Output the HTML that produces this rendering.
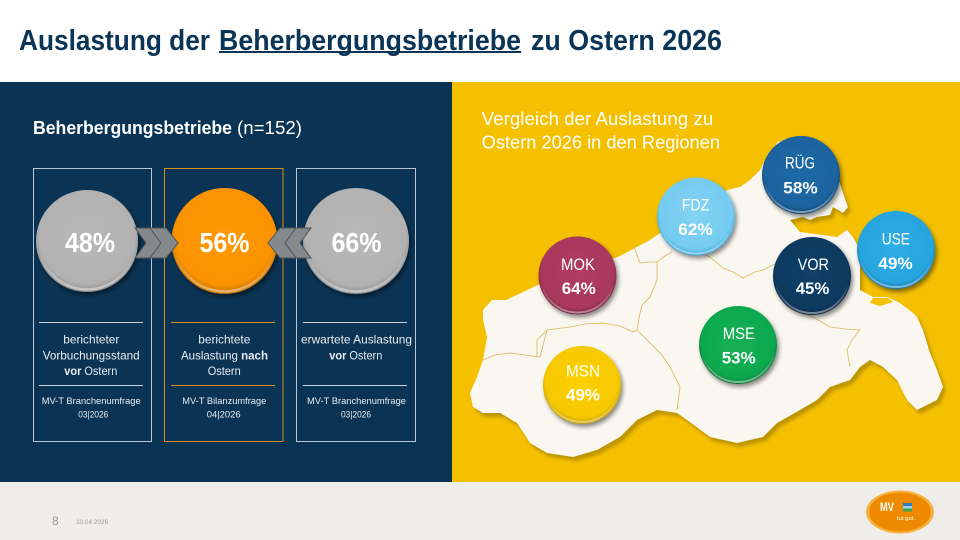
<!DOCTYPE html>
<html><head><meta charset="utf-8"><style>
html,body{margin:0;padding:0;width:960px;height:540px;overflow:hidden;background:#fff}
svg{display:block}
text{font-family:"Liberation Sans",sans-serif}
</style></head><body>
<svg width="960" height="540" viewBox="0 0 960 540" xmlns="http://www.w3.org/2000/svg">
<defs>
 <filter id="ds" x="-30%" y="-30%" width="160%" height="160%">
  <feDropShadow dx="2" dy="3" stdDeviation="2" flood-color="#000" flood-opacity="0.45"/>
 </filter>
 <filter id="ms" x="-10%" y="-10%" width="120%" height="130%">
  <feGaussianBlur stdDeviation="1.5"/>
 </filter>
 <radialGradient id="gGray" cx="50%" cy="45%" r="55%">
  <stop offset="0" stop-color="#b8b8b8"/><stop offset="0.85" stop-color="#b2b2b2"/><stop offset="1" stop-color="#8e8e8e"/>
 </radialGradient>
 <radialGradient id="gOr" cx="50%" cy="45%" r="55%">
  <stop offset="0" stop-color="#ff9808"/><stop offset="0.85" stop-color="#fb9200"/><stop offset="1" stop-color="#c07000"/>
 </radialGradient>
 <radialGradient id="gRug" cx="50%" cy="45%" r="55%">
  <stop offset="0" stop-color="#1d6aa8"/><stop offset="0.85" stop-color="#1a639e"/><stop offset="1" stop-color="#0f4270"/>
 </radialGradient>
 <radialGradient id="gFdz" cx="50%" cy="45%" r="55%">
  <stop offset="0" stop-color="#84d3f4"/><stop offset="0.85" stop-color="#74cbf0"/><stop offset="1" stop-color="#3aa4d4"/>
 </radialGradient>
 <radialGradient id="gMok" cx="50%" cy="45%" r="55%">
  <stop offset="0" stop-color="#b03d64"/><stop offset="0.85" stop-color="#a8375c"/><stop offset="1" stop-color="#74203c"/>
 </radialGradient>
 <radialGradient id="gVor" cx="50%" cy="45%" r="55%">
  <stop offset="0" stop-color="#123f68"/><stop offset="0.85" stop-color="#0f3a60"/><stop offset="1" stop-color="#082440"/>
 </radialGradient>
 <radialGradient id="gUse" cx="50%" cy="45%" r="55%">
  <stop offset="0" stop-color="#30ace5"/><stop offset="0.85" stop-color="#26a4de"/><stop offset="1" stop-color="#1478b0"/>
 </radialGradient>
 <radialGradient id="gMse" cx="50%" cy="45%" r="55%">
  <stop offset="0" stop-color="#14b055"/><stop offset="0.85" stop-color="#0fa84e"/><stop offset="1" stop-color="#067434"/>
 </radialGradient>
 <radialGradient id="gMsn" cx="50%" cy="45%" r="55%">
  <stop offset="0" stop-color="#fcd000"/><stop offset="0.85" stop-color="#f6c800"/><stop offset="1" stop-color="#c09800"/>
 </radialGradient>
 <linearGradient id="rim" x1="0" y1="0" x2="0" y2="1">
  <stop offset="0" stop-color="#fff" stop-opacity="0"/><stop offset="0.6" stop-color="#fff" stop-opacity="0"/><stop offset="1" stop-color="#fff" stop-opacity="0.45"/>
 </linearGradient>
</defs>

<!-- header -->
<rect x="0" y="0" width="960" height="82" fill="#ffffff"/>
<text x="19" y="50" font-size="29" font-weight="bold" fill="#0b3556" textLength="191" lengthAdjust="spacingAndGlyphs">Auslastung der</text>
<text x="219" y="50" font-size="29" font-weight="bold" fill="#0b3556" textLength="302" lengthAdjust="spacingAndGlyphs">Beherbergungsbetriebe</text>
<rect x="219" y="51" width="302" height="2" fill="#0b3556"/>
<text x="531" y="50" font-size="29" font-weight="bold" fill="#0b3556" textLength="191" lengthAdjust="spacingAndGlyphs">zu Ostern 2026</text>

<!-- panels -->
<rect x="0" y="82" width="452" height="400" fill="#0b3454"/>
<rect x="452" y="82" width="508" height="400" fill="#f4c000"/>
<rect x="0" y="482" width="960" height="58" fill="#eeede9"/>

<!-- left panel -->
<text x="33" y="134" font-size="18" font-weight="bold" fill="#ffffff" textLength="199" lengthAdjust="spacingAndGlyphs">Beherbergungsbetriebe</text>
<text x="237" y="134" font-size="18" fill="#ffffff" textLength="65" lengthAdjust="spacingAndGlyphs">(n=152)</text>

<rect x="33.5" y="168.5" width="118" height="273" fill="none" stroke="#b9c6d3" stroke-width="1"/>
<rect x="164.5" y="168.5" width="118.5" height="273" fill="none" stroke="#d3901e" stroke-width="1"/>
<rect x="296.5" y="168.5" width="119" height="273" fill="none" stroke="#b9c6d3" stroke-width="1"/>

<line x1="39" y1="322.5" x2="143" y2="322.5" stroke="#c8d2dc" stroke-width="1"/>
<line x1="39" y1="385.5" x2="143" y2="385.5" stroke="#c8d2dc" stroke-width="1"/>
<line x1="171" y1="322.5" x2="275" y2="322.5" stroke="#d3901e" stroke-width="1"/>
<line x1="171" y1="385.5" x2="275" y2="385.5" stroke="#d3901e" stroke-width="1"/>
<line x1="303" y1="322.5" x2="407" y2="322.5" stroke="#c8d2dc" stroke-width="1"/>
<line x1="303" y1="385.5" x2="407" y2="385.5" stroke="#c8d2dc" stroke-width="1"/>

<!-- circles -->
<g filter="url(#ds)">
 <circle cx="87" cy="241" r="51" fill="url(#gGray)"/>
 <circle cx="224.5" cy="241" r="53" fill="url(#gOr)"/>
 <circle cx="356" cy="241" r="53" fill="url(#gGray)"/>
</g>
<g fill="none" stroke="url(#rim)" stroke-width="2.5">
 <circle cx="87" cy="241" r="48.5"/>
 <circle cx="224.5" cy="241" r="50.5"/>
 <circle cx="356" cy="241" r="50.5"/>
</g>

<!-- chevrons -->
<g fill="#85898b" stroke="#4e5356" stroke-width="1">
 <polygon points="135,228 152,228 163,243 152,258 135,258 146,243"/>
 <polygon points="150,228 166,228 178,243 166,258 150,258 161,243"/>
 <polygon points="311,228 294,228 283,243 294,258 311,258 300,243"/>
 <polygon points="296,228 280,228 268,243 280,258 296,258 285,243"/>
</g>

<g font-weight="bold" fill="#ffffff" font-size="28">
 <text x="65" y="252" textLength="50" lengthAdjust="spacingAndGlyphs">48%</text>
 <text x="199.5" y="252" textLength="50" lengthAdjust="spacingAndGlyphs">56%</text>
 <text x="331.5" y="252" textLength="50" lengthAdjust="spacingAndGlyphs">66%</text>
</g>

<g fill="#e6ecf2" font-size="12">
 <text x="63.3" y="343.5" textLength="56" lengthAdjust="spacingAndGlyphs">berichteter</text>
 <text x="42.7" y="359.3" textLength="97" lengthAdjust="spacingAndGlyphs">Vorbuchungsstand</text>
 <text x="64.3" y="375" textLength="53" lengthAdjust="spacingAndGlyphs"><tspan font-weight="bold">vor</tspan> Ostern</text>
 <text x="198.3" y="343.5" textLength="52" lengthAdjust="spacingAndGlyphs">berichtete</text>
 <text x="181" y="359.3" textLength="87" lengthAdjust="spacingAndGlyphs">Auslastung <tspan font-weight="bold">nach</tspan></text>
 <text x="207.7" y="375" textLength="33" lengthAdjust="spacingAndGlyphs">Ostern</text>
 <text x="301" y="343.5" textLength="111" lengthAdjust="spacingAndGlyphs">erwartete Auslastung</text>
 <text x="329.3" y="359.3" textLength="53" lengthAdjust="spacingAndGlyphs"><tspan font-weight="bold">vor</tspan> Ostern</text>
</g>
<g fill="#e6ecf2" font-size="9.5">
 <text x="41.7" y="404" textLength="99" lengthAdjust="spacingAndGlyphs">MV-T Branchenumfrage</text>
 <text x="78.3" y="417.3" textLength="30" lengthAdjust="spacingAndGlyphs">03|2026</text>
 <text x="182.3" y="404" textLength="84" lengthAdjust="spacingAndGlyphs">MV-T Bilanzumfrage</text>
 <text x="206.7" y="417.3" textLength="34" lengthAdjust="spacingAndGlyphs">04|2026</text>
 <text x="307" y="404" textLength="99" lengthAdjust="spacingAndGlyphs">MV-T Branchenumfrage</text>
 <text x="341" y="417.3" textLength="30" lengthAdjust="spacingAndGlyphs">03|2026</text>
</g>

<!-- right panel -->
<text x="481.7" y="125" font-size="18" fill="#ffffff" textLength="231.6" lengthAdjust="spacingAndGlyphs">Vergleich der Auslastung zu</text>
<text x="481.7" y="148.3" font-size="18" fill="#ffffff" textLength="238.3" lengthAdjust="spacingAndGlyphs">Ostern 2026 in den Regionen</text>

<!-- map -->
<g>
<polygon transform="translate(3,4)" filter="url(#ms)" fill="#b08a00" opacity="0.8" points="483,310 492,300 506,300 540,284 577,268 618,257 635,248 650,240 660,233 696,215 727,190 740,187 750,180 760,170 767,157 778,142 793,138 805,140 838,177 843,193 848,207 843,213 833,207 830,215 817,217 810,220 803,217 790,220 800,232 837,237 847,230 853,237 860,250 860,290 873,297 887,297 900,303 913,313 917,317 923,330 930,353 937,370 943,387 937,400 917,410 907,400 897,380 883,367 870,360 860,367 850,380 830,387 817,400 800,410 777,423 763,437 737,443 710,437 687,420 677,413 657,410 637,420 620,437 597,450 573,457 547,453 530,443 517,423 500,413 483,413 473,407 470,393 477,377 483,360 487,337 483,320"/>
<polygon fill="#faf7f0" points="483,310 492,300 506,300 540,284 577,268 618,257 635,248 650,240 660,233 696,215 727,190 740,187 750,180 760,170 767,157 778,142 793,138 805,140 838,177 843,193 848,207 843,213 833,207 830,215 817,217 810,220 803,217 790,220 800,232 837,237 847,230 853,237 860,250 860,290 873,297 887,297 900,303 913,313 917,317 923,330 930,353 937,370 943,387 937,400 917,410 907,400 897,380 883,367 870,360 860,367 850,380 830,387 817,400 800,410 777,423 763,437 737,443 710,437 687,420 677,413 657,410 637,420 620,437 597,450 573,457 547,453 530,443 517,423 500,413 483,413 473,407 470,393 477,377 483,360 487,337 483,320"/>
<polygon fill="#f4c000" points="873,298 888,298 893,302 880,306 870,303"/>
<g fill="none" stroke="#d8b85a" stroke-width="0.8">
 <polyline points="633,243 637,255 640,263 650,262 657,262 665,256 672,252"/>
 <polyline points="657,262 657,280 650,297 642,305 640,313 637,330 650,343 662,355 670,367 680,387 677,410"/>
 <polyline points="540,357 547,330 570,327 585,324 603,323 620,326 633,332 637,330"/>
 <polyline points="540,357 525,355 510,353 495,355 483,360"/>
 <polyline points="547,330 537,340 537,357"/>
 <polyline points="705,255 710,257 723,268 733,272 743,278 755,272 763,270 777,263 790,255"/>
 <polyline points="803,313 815,318 830,327 845,329 860,330 852,340 847,350 850,367"/>
</g>
</g>

<!-- region circles -->
<g filter="url(#ds)">
 <circle cx="801" cy="175" r="39" fill="url(#gRug)"/>
 <circle cx="696" cy="216.5" r="39" fill="url(#gFdz)"/>
 <circle cx="577.5" cy="275.5" r="39" fill="url(#gMok)"/>
 <circle cx="812" cy="276" r="39" fill="url(#gVor)"/>
 <circle cx="896" cy="250" r="39" fill="url(#gUse)"/>
 <circle cx="738" cy="345" r="39" fill="url(#gMse)"/>
 <circle cx="582" cy="385" r="39" fill="url(#gMsn)"/>
</g>
<g fill="none" stroke="url(#rim)" stroke-width="2">
 <circle cx="801" cy="175" r="37"/>
 <circle cx="696" cy="216.5" r="37"/>
 <circle cx="577.5" cy="275.5" r="37"/>
 <circle cx="812" cy="276" r="37"/>
 <circle cx="896" cy="250" r="37"/>
 <circle cx="738" cy="345" r="37"/>
 <circle cx="582" cy="385" r="37"/>
</g>
<g fill="#ffffff" font-size="17">
 <text x="785" y="168.3" textLength="30" lengthAdjust="spacingAndGlyphs">RÜG</text>
 <text x="681.7" y="210.7" textLength="27.7" lengthAdjust="spacingAndGlyphs">FDZ</text>
 <text x="561" y="270" textLength="34" lengthAdjust="spacingAndGlyphs">MOK</text>
 <text x="797.7" y="270" textLength="31.3" lengthAdjust="spacingAndGlyphs">VOR</text>
 <text x="881.7" y="244.3" textLength="28.3" lengthAdjust="spacingAndGlyphs">USE</text>
 <text x="722.7" y="339" textLength="32.3" lengthAdjust="spacingAndGlyphs">MSE</text>
 <text x="566" y="376.7" textLength="34" lengthAdjust="spacingAndGlyphs">MSN</text>
</g>
<g fill="#ffffff" font-size="17" font-weight="bold">
 <text x="783.3" y="193.3" textLength="34.4" lengthAdjust="spacingAndGlyphs">58%</text>
 <text x="678.3" y="235" textLength="34.4" lengthAdjust="spacingAndGlyphs">62%</text>
 <text x="561.7" y="294" textLength="34" lengthAdjust="spacingAndGlyphs">64%</text>
 <text x="795.7" y="294" textLength="33.6" lengthAdjust="spacingAndGlyphs">45%</text>
 <text x="878.3" y="269" textLength="34.4" lengthAdjust="spacingAndGlyphs">49%</text>
 <text x="721.7" y="363.3" textLength="34" lengthAdjust="spacingAndGlyphs">53%</text>
 <text x="566" y="400.7" textLength="34" lengthAdjust="spacingAndGlyphs">49%</text>
</g>

<!-- footer -->
<text x="52" y="525" font-size="12" fill="#9a9a9a">8</text>
<text x="76" y="524" font-size="6" fill="#9a9a9a" textLength="32" lengthAdjust="spacingAndGlyphs">10.04.2026</text>
<ellipse cx="900" cy="512" rx="34" ry="21.5" fill="#f6b23c"/>
<ellipse cx="900" cy="512" rx="31" ry="19.5" fill="#ee8a00"/>
<text x="880" y="511" font-size="12" font-weight="bold" fill="#ffffff" textLength="14" lengthAdjust="spacingAndGlyphs">MV</text>
<rect x="903" y="503" width="9" height="3" fill="#2a7fc4"/>
<rect x="903" y="506" width="9" height="2.5" fill="#9fd3f0"/>
<rect x="903" y="508.5" width="9" height="3" fill="#3aa24a"/>
<text x="897" y="520" font-size="5.5" fill="#ffffff" textLength="18" lengthAdjust="spacingAndGlyphs">tut gut.</text>
</svg>
</body></html>
